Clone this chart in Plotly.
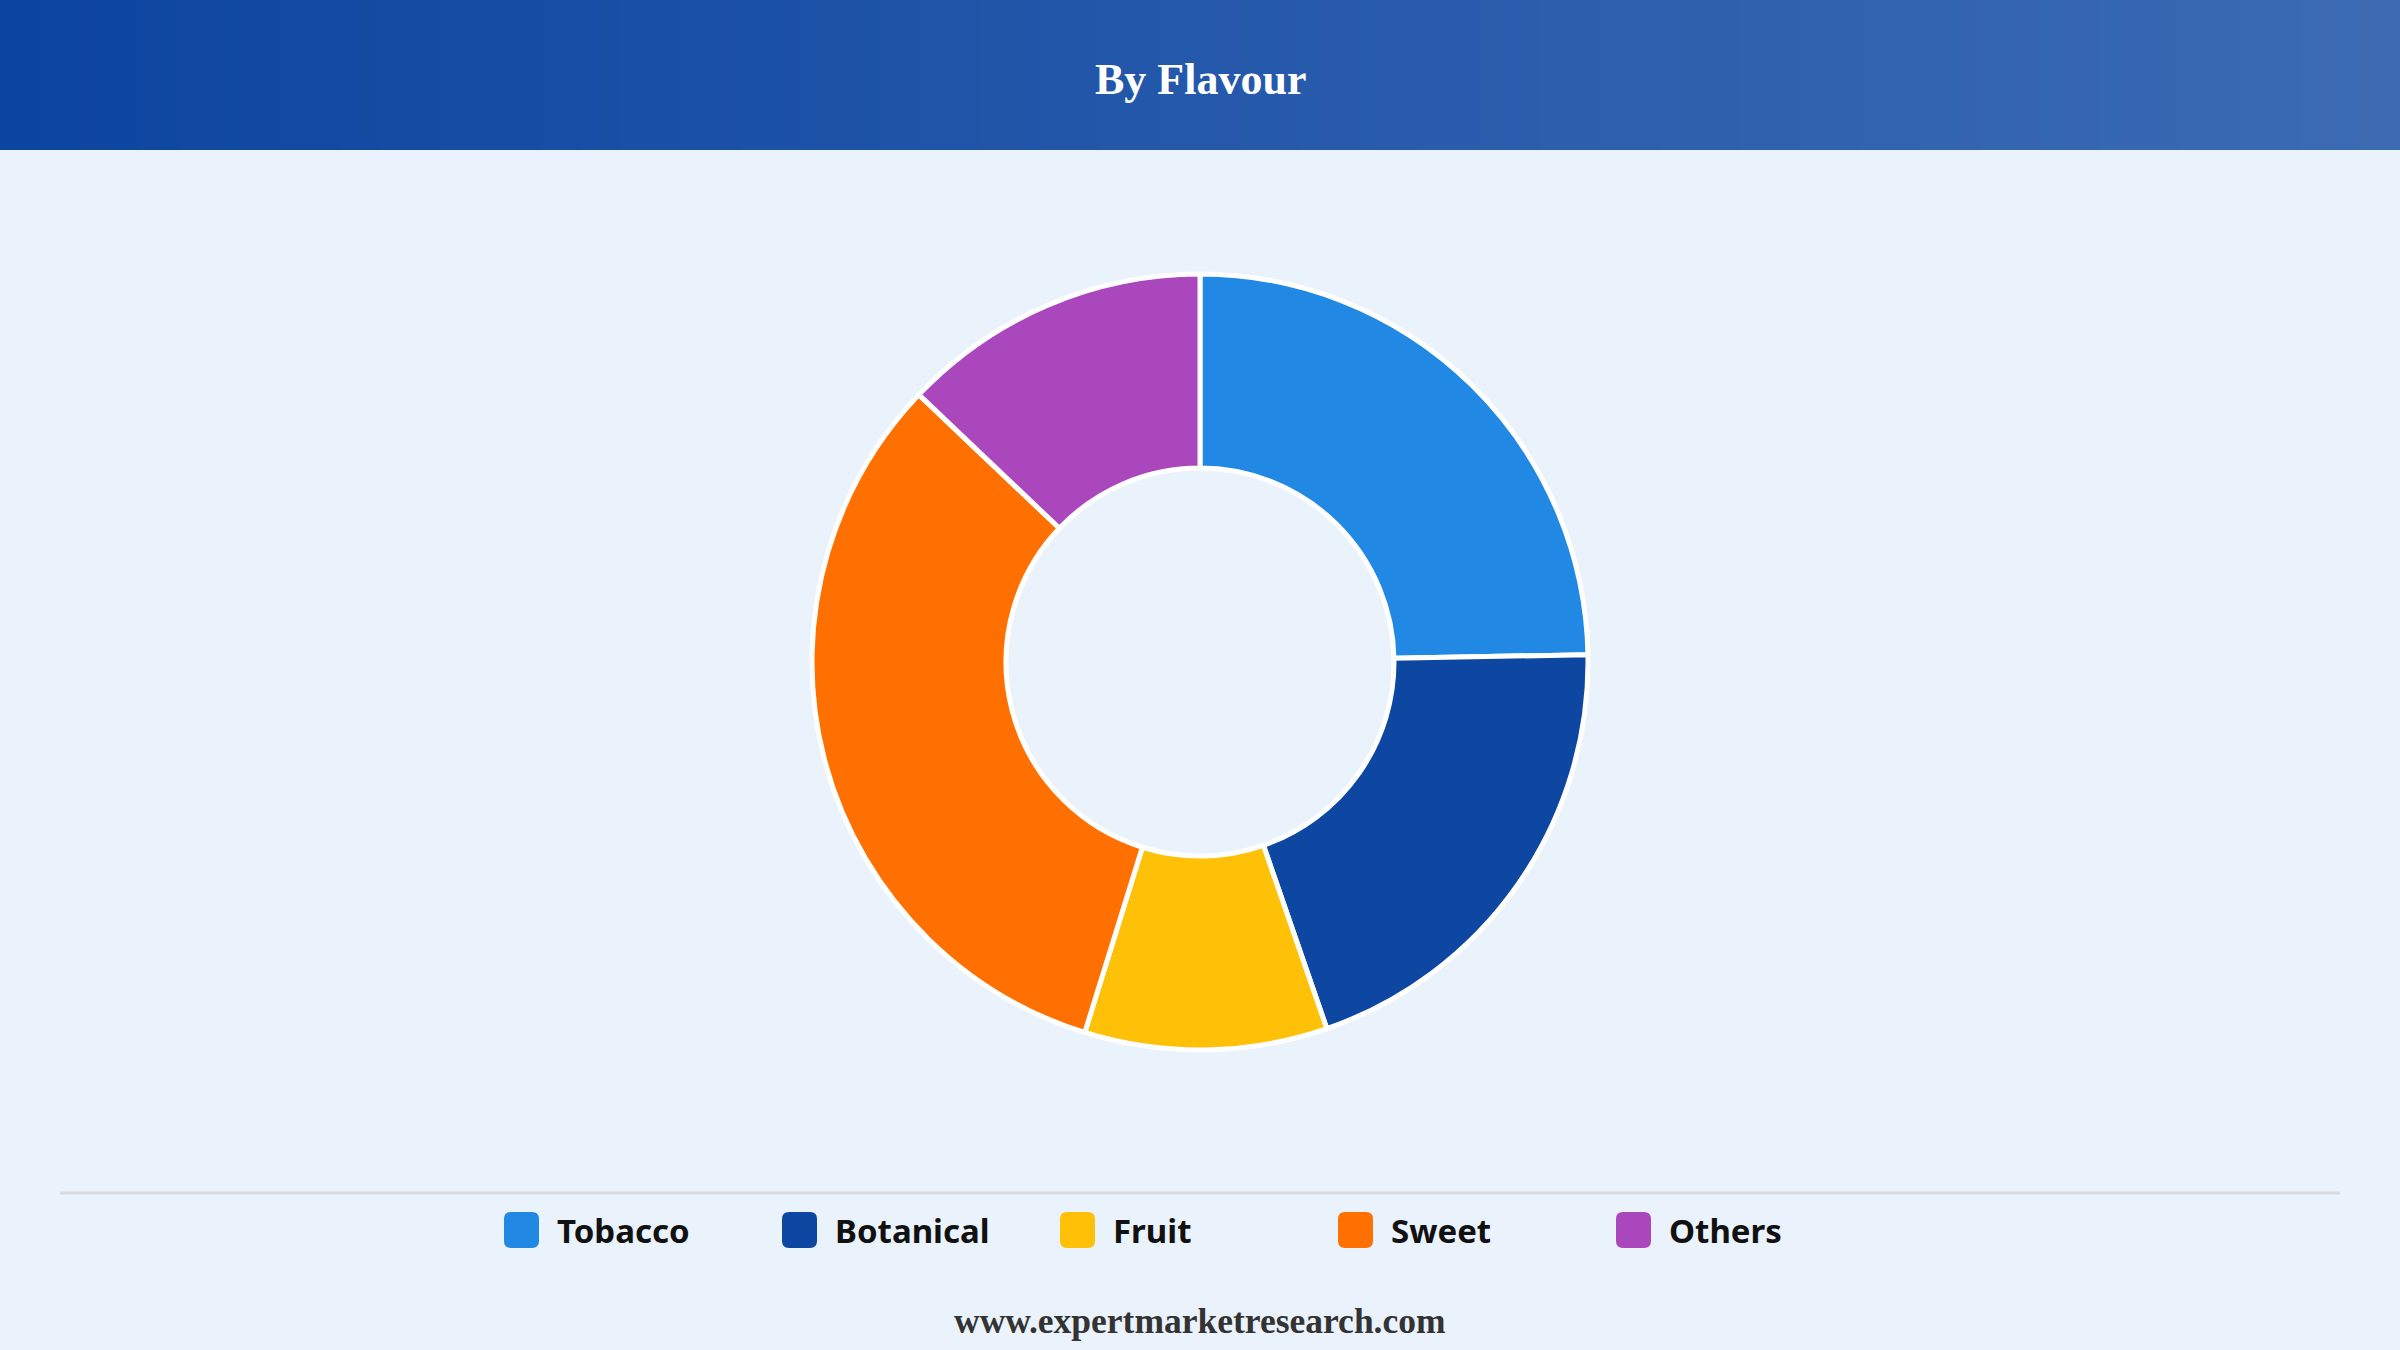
import plotly.graph_objects as go

# --- DATA ---
flavours = ["Tobacco", "Botanical", "Fruit", "Sweet", "Others"]
shares = [24.7, 20.0, 10.1, 32.3, 12.9]
colours = ["#2188e3", "#0d47a1", "#ffc107", "#ff7000", "#ab47bc"]

W, H = 2400, 1350
BG = "#eaf2fb"


def px(x):
    return x / W


def py(y):
    # pixel y from top -> paper y from bottom
    return 1 - y / H


def hex_mix(c1, c2, t):
    a = [int(c1[i:i + 2], 16) for i in (1, 3, 5)]
    b = [int(c2[i:i + 2], 16) for i in (1, 3, 5)]
    return "#" + "".join(f"{round(a[k] + (b[k] - a[k]) * t):02x}" for k in range(3))


def rounded_rect(x0, y0, x1, y1, r):
    # path in paper coords, corners rounded by r pixels
    rx, ry = r / W, r / H
    X0, X1 = px(x0), px(x1)
    Y0, Y1 = py(y1), py(y0)  # bottom, top
    return (f"M {X0 + rx},{Y0} L {X1 - rx},{Y0} Q {X1},{Y0} {X1},{Y0 + ry} "
            f"L {X1},{Y1 - ry} Q {X1},{Y1} {X1 - rx},{Y1} L {X0 + rx},{Y1} "
            f"Q {X0},{Y1} {X0},{Y1 - ry} L {X0},{Y0 + ry} Q {X0},{Y0} {X0 + rx},{Y0} Z")


fig = go.Figure()

# donut
cx, cy, R = 1200, 662, 388
fig.add_trace(go.Pie(
    labels=flavours, values=shares,
    marker=dict(colors=colours, line=dict(color="white", width=5)),
    hole=0.5, sort=False, direction="clockwise", rotation=0,
    textinfo="none", showlegend=False,
    domain=dict(x=[px(cx - R), px(cx + R)], y=[py(cy + R), py(cy - R)]),
))

shapes = []
# header band with horizontal gradient
n_strips = 120
for i in range(n_strips):
    shapes.append(dict(
        type="rect", xref="paper", yref="paper", layer="below",
        x0=i / n_strips, x1=(i + 1) / n_strips + 0.001, y0=py(150), y1=1,
        fillcolor=hex_mix("#0c45a0", "#3c6bb4", i / (n_strips - 1)),
        line=dict(width=0),
    ))

# separator above legend
shapes.append(dict(type="line", xref="paper", yref="paper",
                   x0=px(60), x1=px(2340), y0=py(1193), y1=py(1193),
                   line=dict(color="#d8dce1", width=3)))

annotations = [
    dict(text="<b>By Flavour</b>", xref="paper", yref="paper", x=0.5, y=py(80),
         showarrow=False, xanchor="center", yanchor="middle",
         font=dict(family="Liberation Serif", size=44, color="white")),
    dict(text="<b>www.expertmarketresearch.com</b>", xref="paper", yref="paper",
         x=0.5, y=py(1321), showarrow=False, xanchor="center", yanchor="middle",
         font=dict(family="Liberation Serif", size=35.5, color="#333333")),
]

# custom legend with big rounded swatches
leg_x0, leg_step, leg_y = 504, 278, 1230
for i, (name, col) in enumerate(zip(flavours, colours)):
    x0 = leg_x0 + i * leg_step
    shapes.append(dict(type="path", xref="paper", yref="paper",
                       path=rounded_rect(x0, leg_y - 18, x0 + 35, leg_y + 18, 7),
                       fillcolor=col, line=dict(width=0)))
    annotations.append(dict(
        text=f"<b>{name}</b>", xref="paper", yref="paper",
        x=px(x0 + 51), y=py(leg_y), showarrow=False,
        xanchor="left", yanchor="middle",
        font=dict(family="Noto Sans", size=33, color="#111111"),
    ))

fig.update_layout(
    width=W, height=H,
    margin=dict(l=0, r=0, t=0, b=0, pad=0),
    paper_bgcolor=BG, plot_bgcolor=BG,
    shapes=shapes, annotations=annotations,
)

fig.write_html("out.html", config={"displayModeBar": False},
               post_script="document.body.style.margin='0';document.body.style.overflow='hidden';")
